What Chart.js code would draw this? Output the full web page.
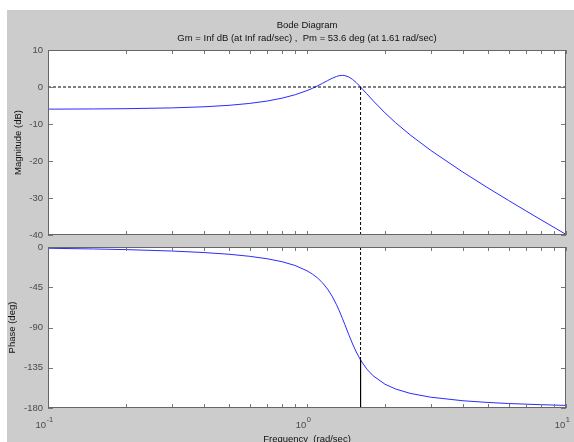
<!DOCTYPE html>
<html>
<head>
<meta charset="utf-8">
<script src="https://cdn.jsdelivr.net/npm/chart.js@4"></script>
<style>
  html, body { margin: 0; padding: 0; background: #fff; }
  #page { position: relative; width: 574px; height: 442px; overflow: hidden; }
  #bg { position: absolute; left: 7px; top: 10px; right: 0; bottom: 0; background: #cccccc; }
  canvas { position: absolute; left: 0; top: 0; }
</style>
</head>
<body>
<div id="page">
  <div id="bg"></div>
  <canvas id="phase" width="574" height="442"></canvas>
  <canvas id="mag" width="574" height="442"></canvas>
</div>
<script>
// Values
const freq = [0.1, 0.15, 0.2, 0.3, 0.4, 0.5, 0.6, 0.7, 0.8, 0.9, 1.0, 1.05, 1.1, 1.15, 1.2, 1.25,
    1.3, 1.33, 1.37, 1.4, 1.45, 1.5, 1.55, 1.61, 1.7, 1.8, 2.0, 2.2, 2.5, 3, 4, 5, 6, 7, 8, 10];
const magDb = [-5.98, -5.93, -5.86, -5.65, -5.35, -4.95, -4.44, -3.81, -3.03, -2.09, -0.97, -0.34, 0.33, 1.03, 1.72, 2.35,
    2.85, 3.05, 3.15, 3.08, 2.71, 2.04, 1.18, 0.0, -1.80, -3.71, -6.99, -9.67, -12.93, -17.10, -23.01, -27.29, -30.66, -33.47, -35.87, -39.84];
const phaseDeg = [-1.4, -2.2, -2.9, -4.5, -6.2, -8.1, -10.4, -13.1, -16.4, -20.7, -26.6, -30.3, -34.8, -40.3, -47.0, -55.0,
    -64.5, -70.8, -79.8, -86.7, -98.0, -108.4, -117.4, -126.4, -136.3, -144.0, -153.4, -158.8, -163.6, -167.9, -171.9, -173.8, -175.0, -175.7, -176.3, -177.1];

// crossover marker (Pm = 53.6 deg at 1.61 rad/sec)
const wc = 1.61;
const phaseAtWc = -126.4;

const xTicks = [0.1, 0.2, 0.3, 0.4, 0.5, 0.6, 0.7, 0.8, 0.9, 1, 2, 3, 4, 5, 6, 7, 8, 9, 10];
const xMajor = [{ v: 0.1, exp: '-1' }, { v: 1, exp: '0' }, { v: 10, exp: '1' }];
const magTicks = [10, 0, -10, -20, -30, -40];
const phaseTicks = [0, -45, -90, -135, -180];

const FONT = 'Arial, "Liberation Sans", Helvetica, sans-serif';
const LINE_BLUE = '#2b2bff';
const TICK_COLOR = '#4a4a4a';

const pts = (xs, ys) => xs.map((x, i) => ({ x: x, y: ys[i] }));

// white plot area, box and inward ticks like matlab
const framePlugin = {
    id: 'frame',
    beforeDraw(chart) {
        const a = chart.chartArea;
        chart.ctx.save();
        chart.ctx.fillStyle = '#ffffff';
        chart.ctx.fillRect(a.left, a.top, a.right - a.left, a.bottom - a.top);
        chart.ctx.restore();
    },
    afterDatasetsDraw(chart) {
        const ctx = chart.ctx;
        const a = chart.chartArea;
        const xs = chart.scales.x, ys = chart.scales.y;
        const yt = chart.options.plugins.frame.yTicks;
        ctx.save();
        ctx.strokeStyle = '#777777';
        ctx.lineWidth = 1;
        ctx.beginPath();
        xTicks.forEach(v => {
            const px = Math.round(xs.getPixelForValue(v)) + 0.5;
            ctx.moveTo(px, a.top); ctx.lineTo(px, a.top + 4);
            ctx.moveTo(px, a.bottom); ctx.lineTo(px, a.bottom - 4);
        });
        yt.forEach(v => {
            const py = Math.round(ys.getPixelForValue(v)) + 0.5;
            ctx.moveTo(a.left, py); ctx.lineTo(a.left + 5, py);
            ctx.moveTo(a.right, py); ctx.lineTo(a.right - 5, py);
        });
        ctx.stroke();
        ctx.strokeStyle = '#666666';
        ctx.strokeRect(Math.round(a.left) + 0.5, Math.round(a.top) + 0.5,
            Math.round(a.right - a.left) - 1, Math.round(a.bottom - a.top) - 1);
        ctx.restore();
    },
    afterDraw(chart) {
        if (!chart.options.plugins.frame.xLabels) return;
        const ctx = chart.ctx;
        const xs = chart.scales.x;
        ctx.save();
        ctx.fillStyle = TICK_COLOR;
        ctx.textBaseline = 'alphabetic';
        xMajor.forEach(m => {
            ctx.font = '9.5px ' + FONT;
            const wBase = ctx.measureText('10').width;
            ctx.font = '7.5px ' + FONT;
            const wExp = ctx.measureText(m.exp).width;
            const cx = xs.getPixelForValue(m.v) - 4;
            const x0 = cx - (wBase + wExp) / 2;
            ctx.font = '9.5px ' + FONT;
            ctx.fillText('10', x0, 428);
            ctx.font = '7.5px ' + FONT;
            ctx.fillText(m.exp, x0 + wBase + 0.5, 422);
        });
        ctx.restore();
    }
};

function yScale(min, max, step, title, titlePad) {
    return {
        type: 'linear',
        min: min,
        max: max,
        afterFit: s => { s.width = 48; },
        afterBuildTicks: s => { s.ticks = (min === -40 ? magTicks : phaseTicks).map(v => ({ value: v })); },
        grid: { display: false, drawTicks: false },
        border: { display: false },
        ticks: { color: TICK_COLOR, padding: 5, font: { family: FONT, size: 9.5 } },
        title: { display: true, text: title, color: '#111', padding: { top: titlePad, bottom: 0 }, font: { family: FONT, size: 9.5 } }
    };
}

const magChart = new Chart(document.getElementById('mag'), {
    type: 'line',
    data: {
        datasets: [
            { data: pts([0.1, 10], [0, 0]), borderColor: '#000', borderWidth: 1, borderDash: [3, 2], pointRadius: 0 },
            { data: pts([wc, wc], [0, -40]), borderColor: '#000', borderWidth: 1, borderDash: [3, 2], pointRadius: 0 },
            { data: pts(freq, magDb), borderColor: LINE_BLUE, borderWidth: 1, pointRadius: 0, tension: 0 }
        ]
    },
    options: {
        responsive: false,
        animation: false,
        events: [],
        layout: { padding: { left: 0, right: 8, top: 0, bottom: 207 } },
        scales: {
            x: { type: 'logarithmic', min: 0.1, max: 10, display: false },
            y: yScale(-40, 10, 10, 'Magnitude (dB)', 13)
        },
        plugins: {
            legend: { display: false },
            tooltip: { enabled: false },
            frame: { yTicks: magTicks, xLabels: false },
            title: {
                display: true, text: 'Bode Diagram', fullSize: false, color: '#111',
                font: { family: FONT, size: 9.5, weight: 'normal' }, padding: { top: 19.3, bottom: 0 }
            },
            subtitle: {
                display: true, text: 'Gm = Inf dB (at Inf rad/sec) ,  Pm = 53.6 deg (at 1.61 rad/sec)', fullSize: false, color: '#111',
                font: { family: FONT, size: 9.5 }, padding: { top: 1.6, bottom: 6.3 }
            }
        }
    },
    plugins: [framePlugin]
});

const phaseChart = new Chart(document.getElementById('phase'), {
    type: 'line',
    data: {
        datasets: [
            { data: pts([0.1, 10], [-180, -180]), borderColor: '#000', borderWidth: 1, borderDash: [3, 2], pointRadius: 0 },
            { data: pts([wc, wc], [0, phaseAtWc]), borderColor: '#000', borderWidth: 1, borderDash: [3, 2], pointRadius: 0 },
            { data: pts([wc, wc], [phaseAtWc, -180]), borderColor: '#000', borderWidth: 1, pointRadius: 0 },
            { data: pts(freq, phaseDeg), borderColor: LINE_BLUE, borderWidth: 1, pointRadius: 0, tension: 0 }
        ]
    },
    options: {
        responsive: false,
        animation: false,
        events: [],
        layout: { padding: { left: 0, right: 8, top: 247, bottom: 0 } },
        scales: {
            x: {
                type: 'logarithmic', min: 0.1, max: 10,
                afterFit: s => { s.height = 34; },
                grid: { display: false, drawTicks: false },
                border: { display: false },
                ticks: { display: false },
                title: { display: true, text: 'Frequency  (rad/sec)', color: '#111', padding: { top: 0, bottom: -3 }, font: { family: FONT, size: 9.5 } }
            },
            y: yScale(-180, 0, 45, 'Phase (deg)', 7)
        },
        plugins: {
            legend: { display: false },
            tooltip: { enabled: false },
            frame: { yTicks: phaseTicks, xLabels: true }
        }
    },
    plugins: [framePlugin]
});
</script>
</body>
</html>
